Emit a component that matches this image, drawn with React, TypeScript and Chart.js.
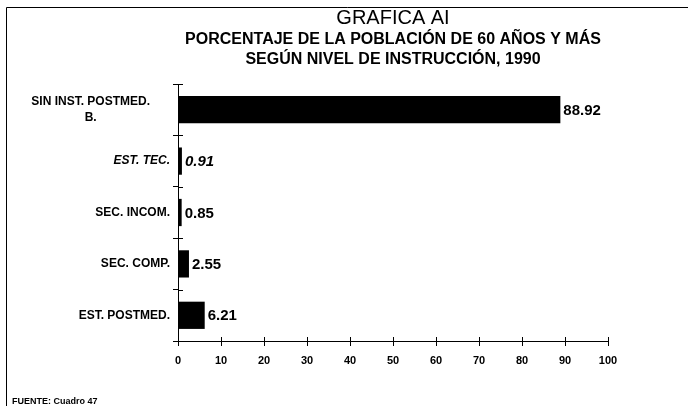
import React, { useEffect, useRef } from "react";
import { Chart, registerables } from "chart.js";

Chart.register(...registerables);

const categories: (string | string[])[] = [
  ["SIN INST. POSTMED.      ", "B.                      "],
  "EST. TEC.",
  "SEC. INCOM.",
  "SEC. COMP.",
  "EST. POSTMED.",
];
const values: number[] = [88.92, 0.91, 0.85, 2.55, 6.21];
const valueLabels: string[] = ["88.92", "0.91", "0.85", "2.55", "6.21"];
const italicRows: number[] = [1];
const xTicks: number[] = [0, 10, 20, 30, 40, 50, 60, 70, 80, 90, 100];
const titleLine = "GRAFICA AI";
const subtitleLines = [
  "PORCENTAJE DE LA POBLACIÓN DE 60 AÑOS Y MÁS",
  "SEGÚN NIVEL DE INSTRUCCIÓN, 1990",
];
const sourceNote = "FUENTE: Cuadro 47";

const FONT = "'Liberation Sans', Arial, sans-serif";

const decorPlugin = {
  id: "decor",
  beforeDraw(chart: any) {
    const ctx = chart.ctx;
    ctx.save();
    ctx.fillStyle = "#ffffff";
    ctx.fillRect(0, 0, chart.width, chart.height);
    ctx.strokeStyle = "#000";
    ctx.lineWidth = 1;
    ctx.beginPath();
    ctx.moveTo(6.5, chart.height);
    ctx.lineTo(6.5, 7.5);
    ctx.lineTo(chart.width, 7.5);
    ctx.stroke();
    ctx.restore();
  },
  afterDraw(chart: any) {
    const ctx = chart.ctx;
    const area = chart.chartArea;
    const xs = chart.scales.x;
    const ys = chart.scales.y;
    ctx.save();
    ctx.strokeStyle = "#000";
    ctx.lineWidth = 1;
    ctx.beginPath();
    xs.ticks.forEach((_t: any, i: number) => {
      const px = Math.round(xs.getPixelForTick(i)) + 0.5;
      ctx.moveTo(px, area.bottom);
      ctx.lineTo(px, area.bottom - 4);
    });
    const n = ys.ticks.length;
    for (let i = 0; i <= n; i++) {
      const py = Math.round(ys.top + (ys.height * i) / n) + 0.5;
      ctx.moveTo(area.left, py);
      ctx.lineTo(area.left + 5, py);
    }
    ctx.stroke();

    const meta = chart.getDatasetMeta(0);
    ctx.fillStyle = "#000";
    ctx.textBaseline = "middle";
    ctx.textAlign = "left";
    meta.data.forEach((bar: any, i: number) => {
      const italic = italicRows.includes(i) ? "italic " : "";
      ctx.font = `${italic}bold 15px ${FONT}`;
      ctx.fillText(valueLabels[i], bar.x + 3, bar.y + 1);
    });

    ctx.font = `bold 9px ${FONT}`;
    ctx.textBaseline = "alphabetic";
    ctx.fillText(sourceNote, 12, 404);
    ctx.restore();
  },
};

export default function App() {
  const ref = useRef<HTMLCanvasElement>(null);

  useEffect(() => {
    if (!ref.current) return;
    const chart = new Chart(ref.current, {
      type: "bar",
      data: {
        labels: categories,
        datasets: [
          {
            data: values,
            backgroundColor: "#000000",
            borderWidth: 0,
            categoryPercentage: 1,
            barPercentage: 0.53,
          },
        ],
      },
      options: {
        indexAxis: "y",
        responsive: false,
        animation: false,
        events: [],
        layout: { padding: { left: 0, right: 80, top: 0, bottom: 0 } },
        plugins: {
          legend: { display: false },
          tooltip: { enabled: false },
          title: {
            display: true,
            fullSize: false,
            text: titleLine,
            color: "#000",
            font: { family: FONT, size: 20, weight: "normal", lineHeight: 1.05 },
            padding: { top: 8, bottom: 1 },
          },
          subtitle: {
            display: true,
            fullSize: false,
            text: subtitleLines,
            color: "#000",
            font: { family: FONT, size: 16, weight: "bold", lineHeight: 1.25 },
            padding: { top: 0, bottom: 14 },
          },
        },
        scales: {
          x: {
            type: "linear",
            min: 0,
            max: 100,
            afterFit: (s: any) => {
              s.height = 65;
            },
            afterBuildTicks: (s: any) => {
              s.ticks = xTicks.map((v) => ({ value: v }));
            },
            border: { display: true, color: "#000", width: 1 },
            grid: {
              display: true,
              drawOnChartArea: false,
              drawTicks: true,
              tickLength: 5,
              color: "#000",
            },
            ticks: {
              color: "#000",
              padding: 8,
              maxRotation: 0,
              font: { family: FONT, size: 11, weight: "bold" },
            },
          },
          y: {
            type: "category",
            afterFit: (s: any) => {
              s.width = 178;
            },
            border: { display: true, color: "#000", width: 1 },
            grid: {
              display: true,
              drawOnChartArea: false,
              drawTicks: true,
              tickLength: 5,
              color: "#000",
              offset: true,
            },
            ticks: {
              color: "#000",
              padding: 3,
              autoSkip: false,
              font: (c: any) => ({
                family: FONT,
                size: 12,
                weight: "bold",
                style: italicRows.includes(c.index) ? "italic" : "normal",
                lineHeight: 1.4,
              }),
            },
          },
        },
      },
      plugins: [decorPlugin],
    });
    return () => chart.destroy();
  }, []);

  return (
    <div
      style={{
        position: "absolute",
        left: 0,
        top: 0,
        width: 688,
        height: 406,
        background: "#fff",
      }}
    >
      <canvas ref={ref} width={688} height={406} style={{ display: "block" }} />
    </div>
  );
}
